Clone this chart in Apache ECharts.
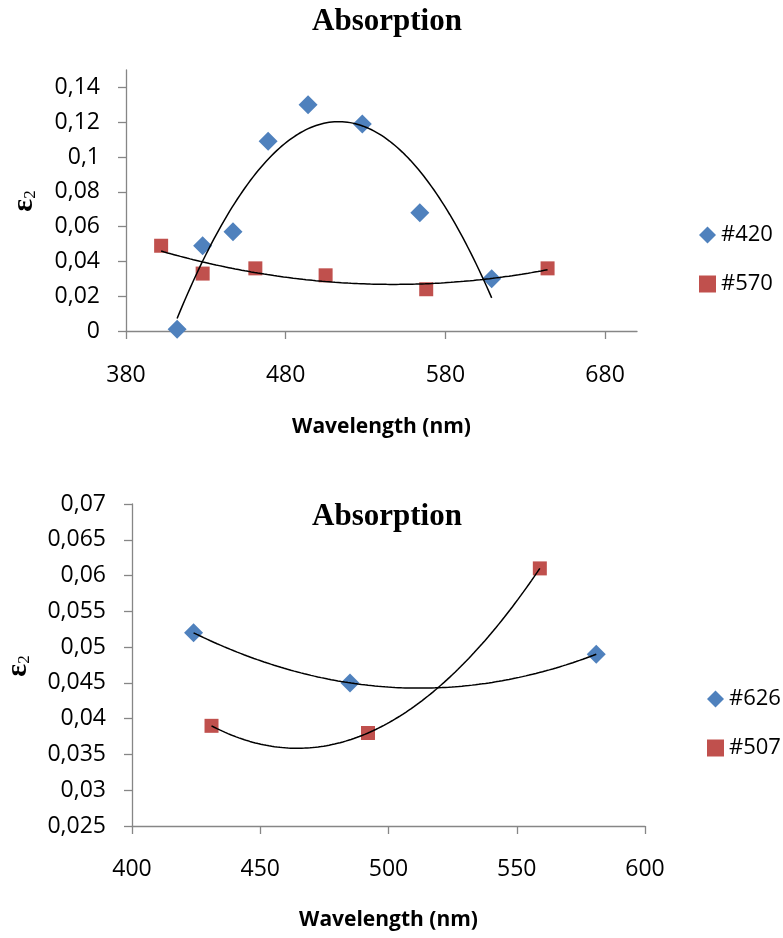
<!DOCTYPE html>
<html>
<head>
<meta charset="utf-8">
<script src="https://cdn.jsdelivr.net/npm/echarts@6/dist/echarts.min.js"></script>
<style>
  html, body { margin: 0; padding: 0; background: #ffffff; }
  #chart { width: 783px; height: 938px; }
</style>
</head>
<body>
<div id="chart"></div>
<script>
// Upper panel: dielectric loss spectra of samples #420 and #570
const wavelength420 = [412, 428, 447, 469, 494, 528, 564, 609];
const eps420 = [0.001, 0.049, 0.057, 0.109, 0.130, 0.119, 0.068, 0.030];
const wavelength570 = [402, 428, 461, 505, 568, 644];
const eps570 = [0.049, 0.033, 0.036, 0.032, 0.024, 0.036];

// Lower panel: samples #626 and #507
const wavelength626 = [424, 485, 581];
const eps626 = [0.052, 0.045, 0.049];
const wavelength507 = [431, 492, 559];
const eps507 = [0.039, 0.038, 0.061];

// Axis tick values
const xTicksTop = [380, 480, 580, 680];
const yTicksTop = [0, 0.02, 0.04, 0.06, 0.08, 0.1, 0.12, 0.14];
const xTicksBottom = [400, 450, 500, 550, 600];
const yTicksBottom = [0.025, 0.03, 0.035, 0.04, 0.045, 0.05, 0.055, 0.06, 0.065, 0.07];

const BLUE = '#4F81BD';
const RED = '#C0504D';
const AXIS_GREY = '#868686';
const SANS = "'Open Sans', 'Liberation Sans', sans-serif";
const SERIF = "'Liberation Serif', 'Times New Roman', serif";

// Second-order polynomial trendline (least squares), sampled over the data range
function quadraticTrend(xs, ys, steps) {
  const n = xs.length;
  const x0 = xs.reduce((a, b) => a + b, 0) / n;
  let s = [0, 0, 0, 0, 0], t = [0, 0, 0];
  for (let i = 0; i < n; i++) {
    const u = xs[i] - x0;
    let p = 1;
    for (let k = 0; k <= 4; k++) { s[k] += p; if (k <= 2) t[k] += p * ys[i]; p *= u; }
  }
  // Solve the 3x3 normal equations by Cramer's rule
  const M = [[s[0], s[1], s[2]], [s[1], s[2], s[3]], [s[2], s[3], s[4]]];
  const det = m => m[0][0] * (m[1][1] * m[2][2] - m[1][2] * m[2][1])
                 - m[0][1] * (m[1][0] * m[2][2] - m[1][2] * m[2][0])
                 + m[0][2] * (m[1][0] * m[2][1] - m[1][1] * m[2][0]);
  const D = det(M);
  const coef = [0, 1, 2].map(c => det(M.map((row, r) => row.map((v, j) => (j === c ? t[r] : v)))) / D);
  const lo = Math.min(...xs), hi = Math.max(...xs);
  const pts = [];
  for (let i = 0; i <= steps; i++) {
    const x = lo + (hi - lo) * i / steps;
    const u = x - x0;
    pts.push([x, coef[0] + coef[1] * u + coef[2] * u * u]);
  }
  return pts;
}

const fmt = v => String(Math.round(v * 1000) / 1000).replace('.', ',');

function xAxisCfg(gridIndex, min, max, ticks, nameGap, labelMargin) {
  return {
    type: 'value', gridIndex, min, max,
    name: 'Wavelength (nm)', nameLocation: 'middle', nameGap,
    nameTextStyle: { fontFamily: SANS, fontSize: 21, fontWeight: 'bold', color: '#000' },
    axisLine: { show: true, onZero: false, lineStyle: { color: AXIS_GREY, width: 1.3 } },
    axisTick: { show: true, customValues: ticks, length: 8, lineStyle: { color: AXIS_GREY, width: 1.3 } },
    axisLabel: { customValues: ticks, margin: labelMargin, fontFamily: SANS, fontSize: 23, color: '#000' },
    splitLine: { show: false }
  };
}

function yAxisCfg(gridIndex, min, max, ticks) {
  return {
    type: 'value', gridIndex, min, max,
    axisLine: { show: true, onZero: false, lineStyle: { color: AXIS_GREY, width: 1.3 } },
    axisTick: { show: true, customValues: ticks, length: 8, lineStyle: { color: AXIS_GREY, width: 1.3 } },
    axisLabel: { customValues: ticks, margin: 26, fontFamily: SANS, fontSize: 23, color: '#000', formatter: fmt },
    splitLine: { show: false }
  };
}

const zip = (xs, ys) => xs.map((x, i) => [x, ys[i]]);

function scatter(name, xi, xs, ys, symbol, size, color) {
  return {
    type: 'scatter', name, xAxisIndex: xi, yAxisIndex: xi,
    data: zip(xs, ys), symbol, symbolSize: size,
    itemStyle: { color, opacity: 1 }, z: 2
  };
}

function trend(name, xi, xs, ys) {
  return {
    type: 'line', name, xAxisIndex: xi, yAxisIndex: xi,
    data: quadraticTrend(xs, ys, 120), showSymbol: false, symbol: 'none',
    lineStyle: { color: '#000', width: 1.5 }, silent: true, z: 3
  };
}

const epsLabel = (x, y) => ({
  type: 'text', x, y, rotation: Math.PI / 2,
  style: {
    text: '{e|ε}{s|2}',
    align: 'center', verticalAlign: 'middle',
    rich: {
      e: { fontFamily: SERIF, fontWeight: 'bold', fontSize: 30, lineHeight: 30, verticalAlign: 'middle', fill: '#000' },
      s: { fontFamily: SERIF, fontSize: 17, lineHeight: 30, verticalAlign: 'bottom', fill: '#000' }
    }
  }
});

const legendCfg = (left, top, names) => ({
  data: names, orient: 'vertical', left, top,
  itemWidth: 17, itemHeight: 17, itemGap: 27,
  textStyle: { fontFamily: SANS, fontSize: 22, color: '#000' }
});

const chart = echarts.init(document.getElementById('chart'), null, { renderer: 'canvas' });
chart.setOption({
  animation: false,
  backgroundColor: '#ffffff',
  title: [
    { text: 'Absorption', left: 382, top: 1, textAlign: 'center',
      textStyle: { fontFamily: SERIF, fontWeight: 'bold', fontSize: 31, color: '#000' } },
    { text: 'Absorption', left: 382, top: 496, textAlign: 'center',
      textStyle: { fontFamily: SERIF, fontWeight: 'bold', fontSize: 31, color: '#000' } }
  ],
  grid: [
    { left: 126, top: 70, width: 511, height: 261 },
    { left: 132, top: 504, width: 513, height: 322 }
  ],
  xAxis: [xAxisCfg(0, 380, 700, xTicksTop, 86, 33), xAxisCfg(1, 400, 600, xTicksBottom, 84, 32)],
  yAxis: [yAxisCfg(0, 0, 0.15, yTicksTop), yAxisCfg(1, 0.025, 0.07, yTicksBottom)],
  legend: [
    legendCfg(694, 219, ['#420', '#570']),
    legendCfg(702, 683, ['#626', '#507'])
  ],
  graphic: [epsLabel(24, 201), epsLabel(18, 666)],
  series: [
    scatter('#420', 0, wavelength420, eps420, 'diamond', 19, BLUE),
    scatter('#570', 0, wavelength570, eps570, 'rect', 14, RED),
    trend('trend420', 0, wavelength420, eps420),
    trend('trend570', 0, wavelength570, eps570),
    scatter('#626', 1, wavelength626, eps626, 'diamond', 19, BLUE),
    scatter('#507', 1, wavelength507, eps507, 'rect', 14, RED),
    trend('trend626', 1, wavelength626, eps626),
    trend('trend507', 1, wavelength507, eps507)
  ]
});
</script>
</body>
</html>
